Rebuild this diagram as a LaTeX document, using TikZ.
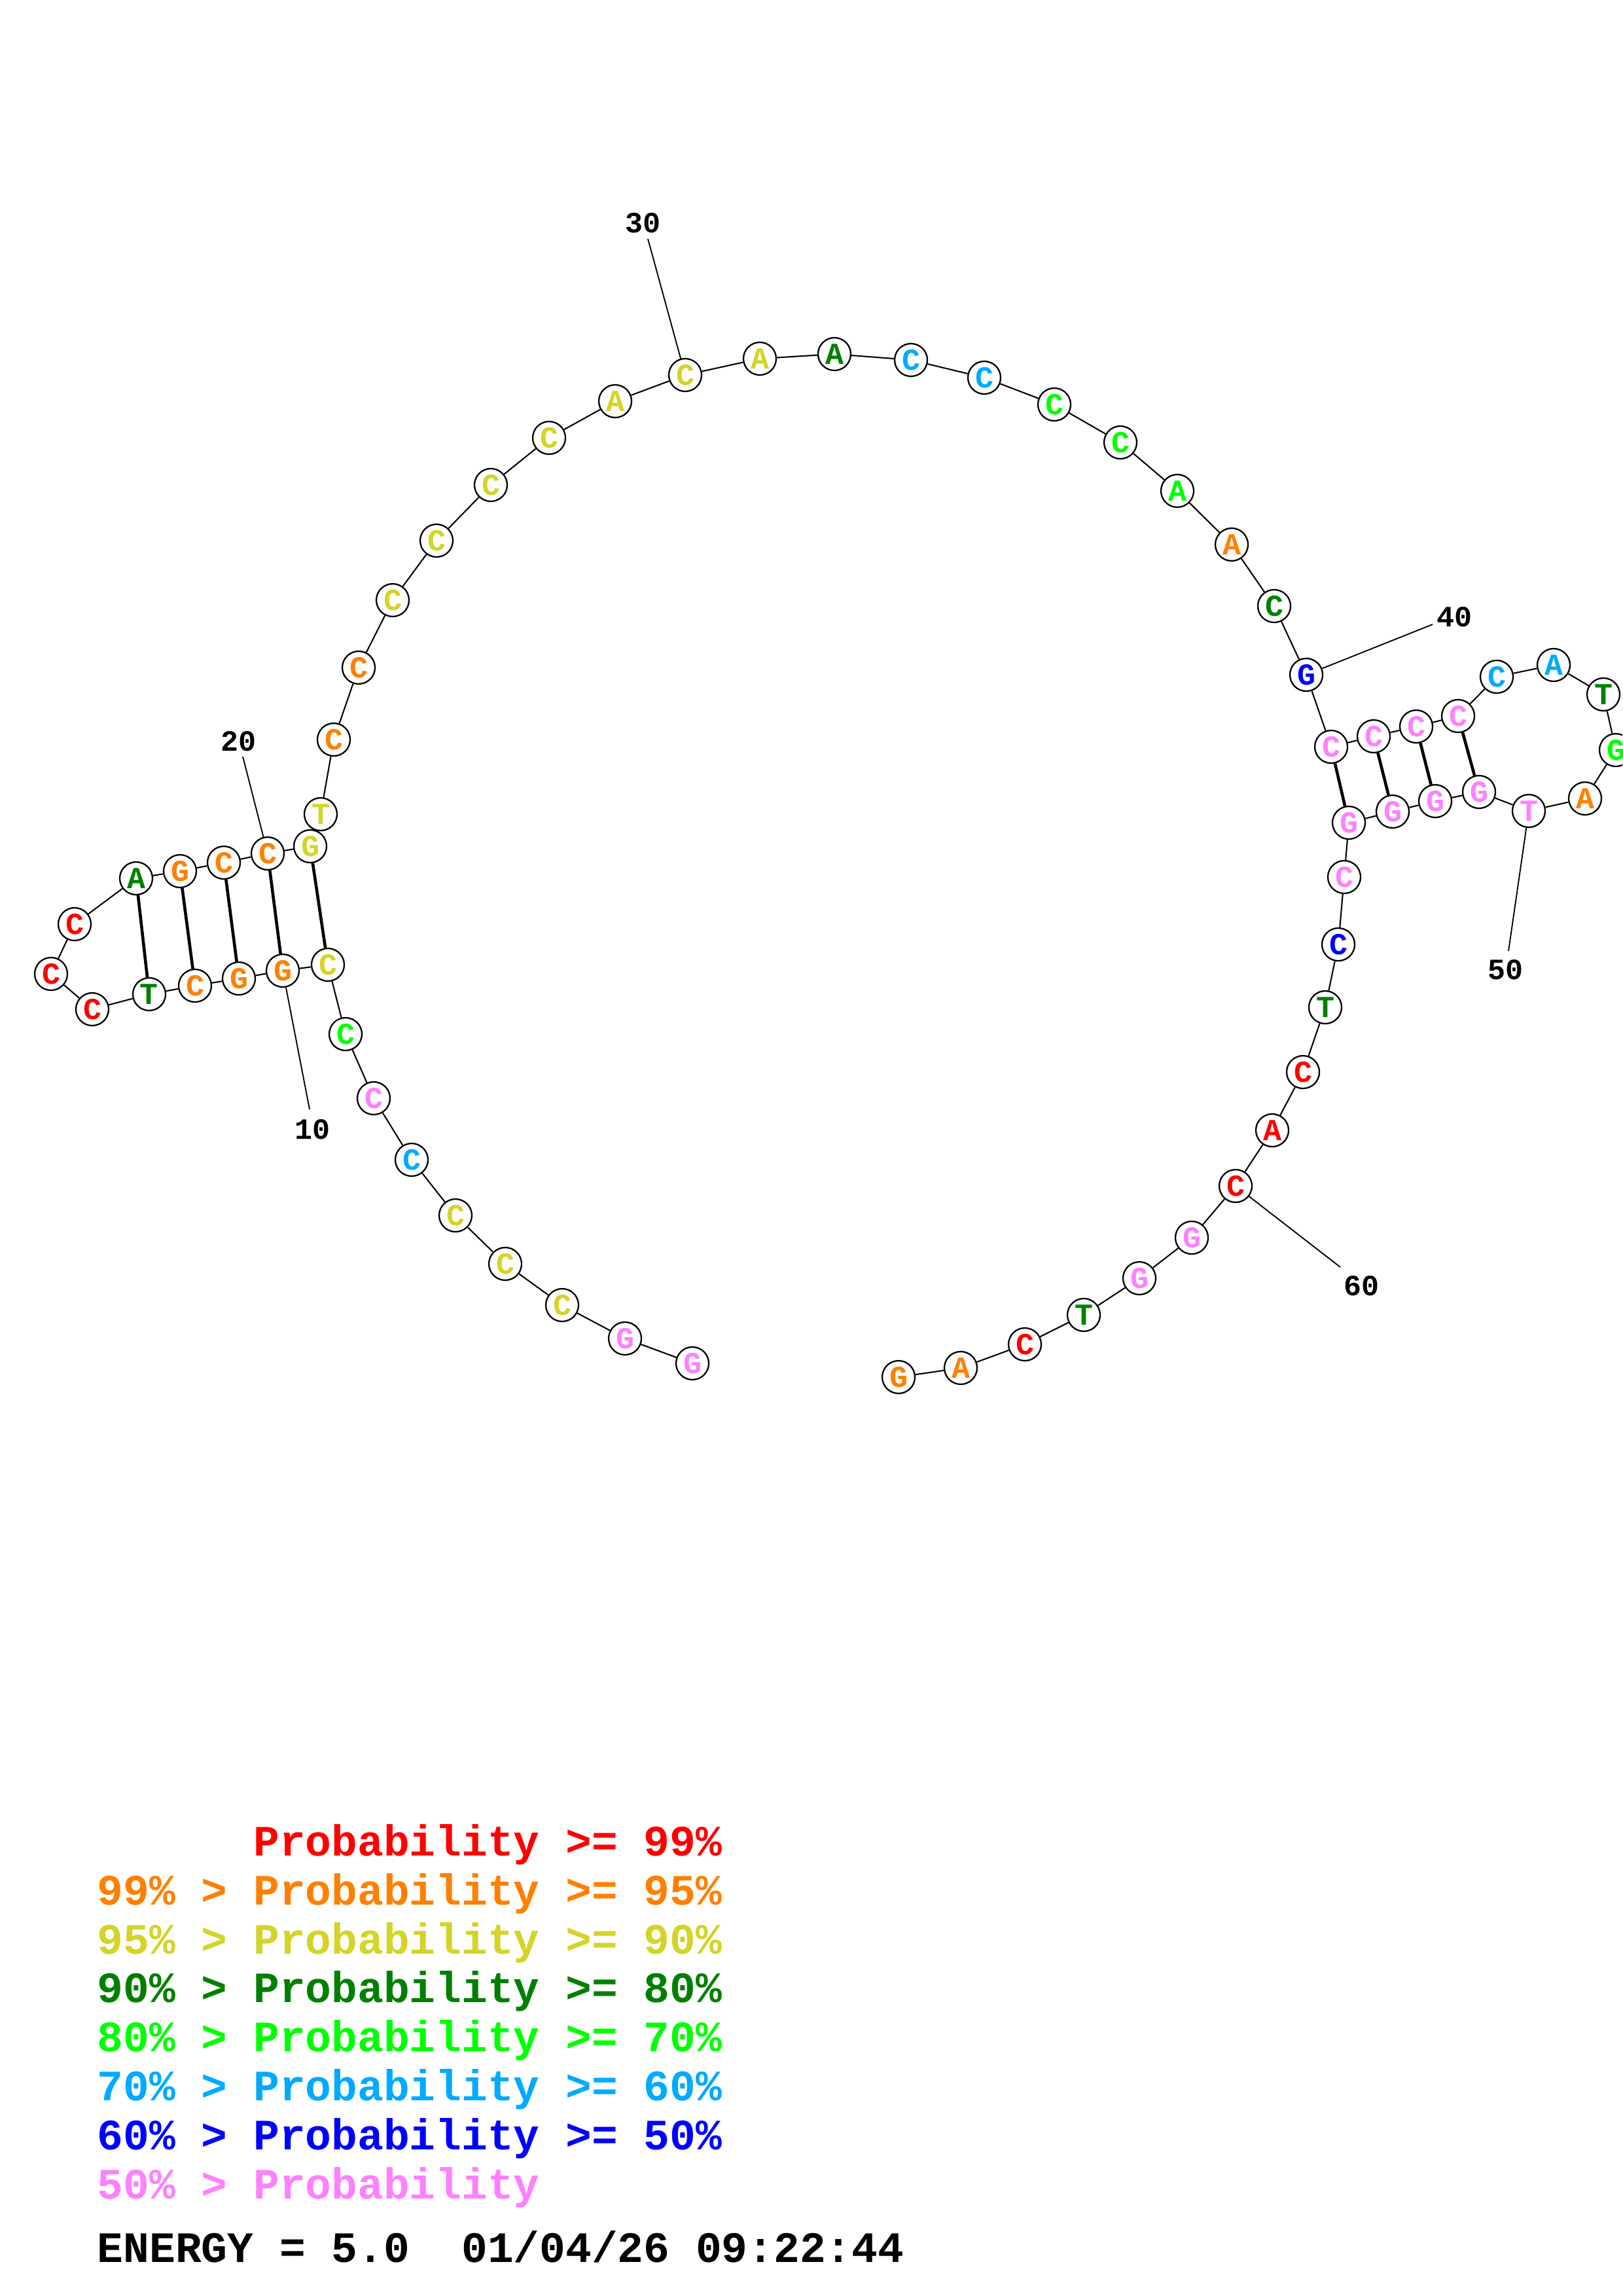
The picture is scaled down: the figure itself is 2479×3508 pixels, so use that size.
\documentclass[tikz,border=0pt]{standalone}
\usepackage{fontspec}
\newfontfamily\courb[BoldFont={* Bold}]{Liberation Mono}
\definecolor{cR}{RGB}{255,0,0}
\definecolor{cO}{RGB}{255,128,0}
\definecolor{cY}{RGB}{212,212,40}
\definecolor{cD}{RGB}{0,128,0}
\definecolor{cG}{RGB}{0,255,0}
\definecolor{cL}{RGB}{0,170,255}
\definecolor{cB}{RGB}{0,0,255}
\definecolor{cP}{RGB}{255,128,255}
\tikzset{
  nt/.style={circle, draw=black, line width=0.55pt, fill=white, minimum size=12pt,
    inner sep=0pt, font=\courb\bfseries\fontsize{11.2}{11.2}\selectfont},
  bb/.style={line width=0.5pt},
  bp/.style={line width=1.1pt},
  tick/.style={line width=0.45pt},
  numlab/.style={inner sep=0pt, font=\courb\bfseries\fontsize{10.8}{10.8}\selectfont},
  leg/.style={anchor=base west, inner sep=0pt, font=\courb\bfseries\fontsize{15.9}{15.9}\selectfont},
}
\begin{document}
\begin{tikzpicture}[x=0.24pt, y=-0.24pt]
\useasboundingbox (0,0) rectangle (2479,3508);
\clip (0,0) rectangle (2479,3508);
\fill[white] (0,0) rectangle (2479,3508);
% nucleotides
\foreach \i/\x/\y/\b/\c in {
 1/1058/2083/G/cP, 2/955/2045/G/cP, 3/859/1994/C/cY, 4/772/1931/C/cY, 5/696/1857/C/cY,
 6/629/1772/C/cL, 7/571/1678/C/cP, 8/528/1580/C/cG, 9/501/1474/C/cY, 10/432/1483/G/cO,
 11/365/1495/G/cO, 12/298/1506/C/cO, 13/228/1519/T/cD, 14/141/1542/C/cR, 15/78/1488/C/cR,
 16/114/1412/C/cR, 17/208/1342/A/cD, 18/275/1331/G/cO, 19/342/1318/C/cO, 20/409/1304/C/cO,
 21/474/1293/G/cY, 22/490/1244/T/cY, 23/510/1130/C/cO, 24/548/1020/C/cO, 25/600/917/C/cY,
 26/667/826/C/cY, 27/750/741/C/cY, 28/839/669/C/cY, 29/940/613/A/cY, 30/1047/573/C/cY,
 31/1161/548/A/cY, 32/1275/541/A/cD, 33/1392/550/C/cL, 34/1504/577/C/cL, 35/1611/618/C/cG,
 36/1712/676/C/cG, 37/1799/750/A/cG, 38/1882/832/A/cO, 39/1947/926/C/cD, 40/1996/1031/G/cB,
 41/2034/1141/C/cP, 42/2099/1125/C/cP, 43/2164/1110/C/cP, 44/2228/1094/C/cP, 45/2287/1034/C/cL,
 46/2374/1016/A/cL, 47/2450/1061/T/cD, 48/2469/1146/G/cG, 49/2422/1220/A/cO, 50/2336/1239/T/cP,
 51/2260/1210/G/cP, 52/2193/1224/G/cP, 53/2128/1240/G/cP, 54/2061/1257/G/cP, 55/2054/1340/C/cP,
 56/2045/1443/C/cB, 57/2025/1539/T/cD, 58/1991/1638/C/cR, 59/1944/1727/A/cR, 60/1888/1812/C/cR,
 61/1821/1891/G/cP, 62/1741/1953/G/cP, 63/1656/2009/T/cD, 64/1566/2054/C/cR, 65/1468/2090/A/cO,
 66/1373/2104/G/cO}
  \node[nt, text=\c] (n\i) at (\x,\y) {\b};
% backbone
\foreach \i [evaluate=\i as \j using int(\i+1)] in {1,...,65}
  \draw[bb] (n\i) -- (n\j);
% base pairs
\foreach \a/\b in {9/21,10/20,11/19,12/18,13/17,41/54,42/53,43/52,44/51}
  \draw[bp] (n\a) -- (n\b);
% position labels
\foreach \i/\lx/\ly/\tx/\ty in {10/477/1726/473/1695, 20/364/1133/371/1156, 30/982/341/990/365,
  40/2222/943/2189/954, 50/2300/1482/2305/1453, 60/2080/1965/2048/1936} {
  \node[numlab] (l\i) at (\lx,\ly) {\i};
  \coordinate (t\i) at (\tx,\ty);
  \draw[tick] (n\i) -- (t\i);
}
% legend
\node[leg, text=cR] (g1) at (148,2835) {\phantom{99\% > }Probability >= 99\%};
\node[leg, text=cO] (g2) at (148,2910) {99\% > Probability >= 95\%};
\node[leg, text=cY] (g3) at (148,2985) {95\% > Probability >= 90\%};
\node[leg, text=cD] (g4) at (148,3059) {90\% > Probability >= 80\%};
\node[leg, text=cG] (g5) at (148,3134) {80\% > Probability >= 70\%};
\node[leg, text=cL] (g6) at (148,3209) {70\% > Probability >= 60\%};
\node[leg, text=cB] (g7) at (148,3284) {60\% > Probability >= 50\%};
\node[leg, text=cP] (g8) at (148,3359) {50\% > Probability};
\node[leg, text=black] (g9) at (148,3456) {ENERGY = 5.0\ \ 01/04/26 09:22:44};
\end{tikzpicture}
\end{document}
